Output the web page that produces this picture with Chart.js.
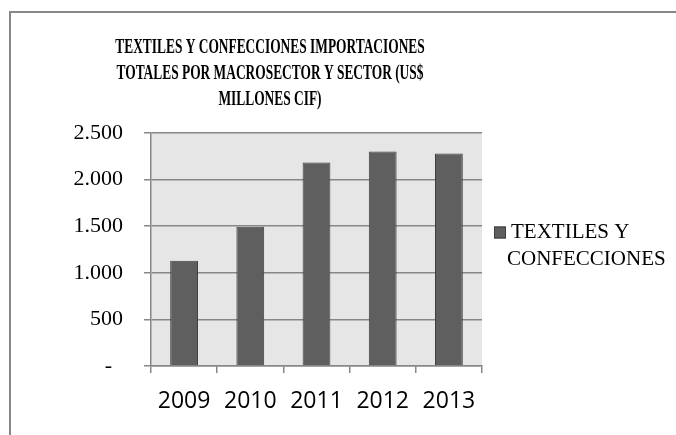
<!DOCTYPE html>
<html>
<head>
<meta charset="utf-8">
<script src="https://cdn.jsdelivr.net/npm/chart.js@4/dist/chart.umd.min.js"></script>
<style>
  html, body { margin: 0; padding: 0; background: #fff; }
  #wrap { position: relative; width: 676px; height: 435px; }
  #frame { position: absolute; left: 9px; top: 11px; width: 700px; height: 440px; border: 2px solid #878787; box-sizing: border-box; }
  canvas { position: absolute; left: 0; top: 0; }
</style>
</head>
<body>
<div id="wrap">
  <div id="frame"></div>
  <canvas id="chart" width="676" height="435"></canvas>
</div>
<script>
// Chart data
const years = ["2009", "2010", "2011", "2012", "2013"];
const textiles = [1129, 1495, 2183, 2302, 2281];
const yTicks = [0, 500, 1000, 1500, 2000, 2500];
const titleLines = [
  "TEXTILES Y CONFECCIONES IMPORTACIONES",
  "TOTALES POR MACROSECTOR Y SECTOR (US$",
  "MILLONES CIF)",
];
const seriesName = ["TEXTILES Y", "CONFECCIONES"];

const serif = "'Liberation Serif', 'Times New Roman', serif";
const sans = "'Open Sans', 'Liberation Sans', sans-serif";

function fmt(v) {
  if (v === 0) return "-  ";
  return v.toString().replace(/\B(?=(\d{3})+(?!\d))/g, ".");
}

// grey plot background
const plotBg = {
  id: "plotBg",
  beforeDraw(chart) {
    const a = chart.chartArea;
    const c = chart.ctx;
    c.save();
    c.fillStyle = "#e6e6e6";
    c.fillRect(a.left, a.top, a.right - a.left, a.bottom - a.top);
    c.restore();
  },
};

// title + legend drawn by hand (multi-line, excel style)
const decor = {
  id: "decor",
  afterDraw(chart) {
    const c = chart.ctx;
    const a = chart.chartArea;
    c.save();
    c.fillStyle = "#000";
    c.textAlign = "center";
    c.textBaseline = "middle";
    c.font = "bold 20px " + serif;
    // the original title is a bit squeezed sideways
    c.save();
    c.translate(270, 0);
    c.scale(0.67, 1);
    titleLines.forEach((t, i) => c.fillText(t, 0, 48 + i * 26));
    c.restore();

    // legend
    const lx = a.right + 12;
    const ly = (a.top + a.bottom) / 2;
    c.fillStyle = "#5f5f5f";
    c.strokeStyle = "#404040";
    c.lineWidth = 1;
    c.fillRect(lx, ly - 23, 12, 12);
    c.strokeRect(lx + 0.5, ly - 22.5, 11, 11);
    c.fillStyle = "#000";
    c.textAlign = "left";
    c.font = "21px " + serif;
    c.fillText(seriesName[0], lx + 17, ly - 17);
    c.fillText(seriesName[1], lx + 13, ly + 10);
    c.restore();
  },
};

new Chart(document.getElementById("chart"), {
  type: "bar",
  data: {
    labels: years,
    datasets: [
      {
        label: seriesName.join(" "),
        data: textiles,
        backgroundColor: "#5f5f5f",
        borderColor: "#404040",
        borderWidth: 1,
        barPercentage: 0.42,
        categoryPercentage: 1,
      },
    ],
  },
  options: {
    responsive: false,
    animation: false,
    devicePixelRatio: 1,
    layout: { padding: { top: 133, right: 194, bottom: 0, left: 0 } },
    plugins: { legend: { display: false }, title: { display: false }, tooltip: { enabled: false } },
    scales: {
      x: {
        afterFit: s => { s.height = 69; },
        grid: { offset: true, drawOnChartArea: false, color: "#878787", tickLength: 7, lineWidth: 1.5 },
        border: { color: "#878787", width: 1.5 },
        ticks: { color: "#000", font: { family: sans, size: 23 }, padding: 15 },
      },
      y: {
        min: 0,
        max: 2500,
        afterFit: s => { s.width = 151; },
        afterBuildTicks: s => { s.ticks = yTicks.map(v => ({ value: v })); },
        grid: { color: "#878787", tickLength: 7, lineWidth: 1.5 },
        border: { color: "#878787", width: 1.5 },
        ticks: { color: "#000", font: { family: serif, size: 22 }, padding: 21, callback: v => fmt(v) },
      },
    },
  },
  plugins: [plotBg, decor],
});
</script>
</body>
</html>
